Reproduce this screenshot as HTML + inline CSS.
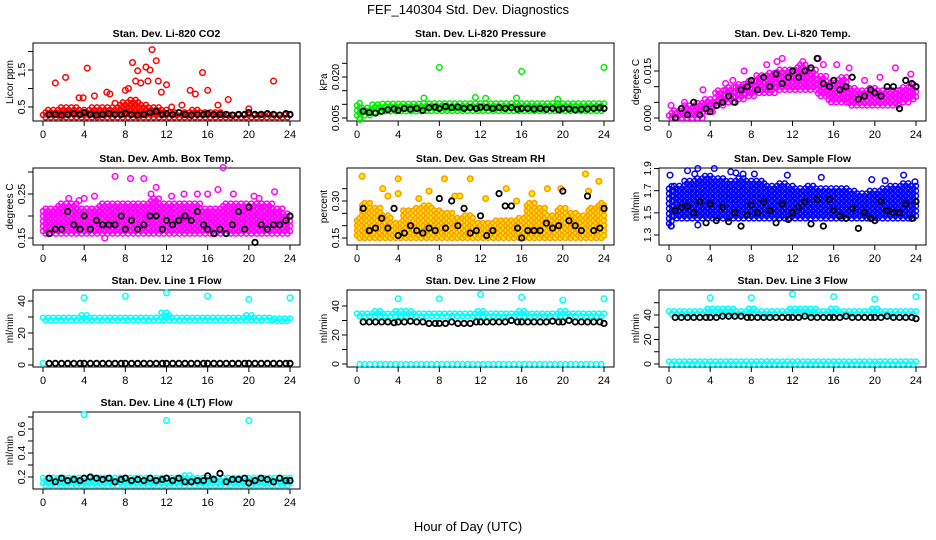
<!DOCTYPE html>
<html><head><meta charset="utf-8"><style>
html,body{margin:0;padding:0;background:#fff;}
svg{display:block;font-family:"Liberation Sans",sans-serif;}
</style></head><body>
<svg id="chart" width="936" height="540" viewBox="0 0 936 540">
<text x="468" y="14" text-anchor="middle" font-size="13">FEF_140304  Std. Dev. Diagnostics</text>
<text x="468" y="531" text-anchor="middle" font-size="13">Hour of Day (UTC)</text>
</svg>
<script>
// shared hour arrays
const bandHours = [0,1,2,3,4,5,6,7,8,9,10,11,12,13,14,15,16,17,18,19,20,21,22,23,24];
const blackHours = [0.6,1.2,1.8,2.4,3.0,3.6,4.0,4.6,5.2,5.8,6.4,7.0,7.6,8.0,8.6,9.2,9.8,10.4,11.0,11.6,12.0,12.6,13.2,13.8,14.4,15.0,15.6,16.0,16.6,17.2,17.8,18.4,19.0,19.6,20.0,20.6,21.2,21.8,22.4,23.0,23.6,24.0];
const xTicks = [0,4,8,12,16,20,24];

// P1 CO2
const co2Lo = [0.22,0.22,0.22,0.22,0.22,0.22,0.22,0.22,0.22,0.22,0.22,0.22,0.22,0.22,0.22,0.22,0.22,0.22,0.22,0.22,0.22,0.22,0.22,0.22,0.22];
const co2Hi = [0.4,0.45,0.5,0.5,0.45,0.5,0.5,0.55,0.65,0.7,0.6,0.5,0.42,0.4,0.4,0.45,0.4,0.36,0.35,0.35,0.35,0.35,0.35,0.35,0.35];
const co2OutX = [1.2,2.2,3.5,3.9,4.3,5,6.2,6.5,7,8,8.3,8.7,9,9.2,9.5,10,10.4,10.2,10.6,11,11.2,11.5,12,12.5,13.5,14.3,14.8,15.5,16,17,18,20,22.4];
const co2OutY = [1.15,1.3,0.75,0.75,1.55,0.8,0.9,0.85,0.6,0.95,1.0,1.7,1.2,1.48,1.15,1.58,1.5,1.2,2.05,1.75,1.2,0.9,1.1,0.5,0.55,0.95,0.85,1.43,0.95,0.55,0.7,0.45,1.2];
const co2Blk = [0.3,0.3,0.28,0.3,0.32,0.3,0.35,0.3,0.28,0.3,0.32,0.3,0.3,0.33,0.3,0.28,0.3,0.35,0.38,0.3,0.32,0.3,0.35,0.3,0.28,0.3,0.3,0.32,0.3,0.3,0.3,0.28,0.3,0.3,0.35,0.3,0.3,0.32,0.3,0.28,0.32,0.3];
// P2 Pressure
const presLo = [0.005,0.006,0.0072,0.0075,0.0075,0.0075,0.0075,0.0076,0.0076,0.0076,0.0076,0.0076,0.0076,0.0076,0.0076,0.0076,0.0076,0.0076,0.0076,0.0076,0.0076,0.0076,0.0076,0.0076,0.0076];
const presHi = [0.0105,0.0095,0.0102,0.0105,0.0108,0.0108,0.0108,0.011,0.011,0.011,0.011,0.011,0.011,0.011,0.011,0.011,0.011,0.011,0.011,0.011,0.011,0.011,0.0108,0.0108,0.0108];
const presOutX = [8,16,24,6.5,11.5,12.5,15.5,19.5,0.3];
const presOutY = [0.0235,0.022,0.0235,0.0123,0.0125,0.0122,0.0123,0.0118,0.0045];
const presBlk = [0.0075,0.007,0.0068,0.0075,0.008,0.0083,0.0078,0.0085,0.0082,0.0085,0.0078,0.0088,0.009,0.0085,0.0092,0.0088,0.009,0.0085,0.0088,0.0085,0.009,0.0088,0.0085,0.0088,0.0085,0.0088,0.0082,0.0085,0.0085,0.0083,0.0085,0.0082,0.0085,0.008,0.0085,0.0083,0.008,0.0082,0.0083,0.0085,0.0087,0.0085];
// P3 Li-820 Temp
const tempLo = [0,0,0,0,0.002,0.004,0.005,0.006,0.007,0.008,0.008,0.009,0.009,0.009,0.009,0.007,0.005,0.005,0.004,0.004,0.004,0.004,0.004,0.005,0.006];
const tempHi = [0.002,0.003,0.004,0.005,0.006,0.009,0.01,0.011,0.012,0.014,0.015,0.016,0.016,0.017,0.016,0.014,0.012,0.013,0.01,0.009,0.01,0.009,0.009,0.01,0.011];
const tempOutX = [0.2,1.5,3.3,5.5,6.2,7.3,9.5,10.5,11,13,14.5,15,16.3,17.5,19,20.5,22,23.5];
const tempOutY = [0.004,0.005,0.009,0.011,0.012,0.015,0.017,0.018,0.019,0.018,0.019,0.017,0.017,0.016,0.012,0.013,0.016,0.014];
const tempBlk = [0,0.003,0.001,0.005,0.001,0.003,0.002,0.004,0.005,0.007,0.005,0.009,0.01,0.012,0.009,0.013,0.01,0.014,0.011,0.013,0.015,0.013,0.015,0.016,0.019,0.011,0.01,0.012,0.009,0.01,0.013,0.006,0.007,0.009,0.008,0.007,0.01,0.01,0.003,0.012,0.011,0.01];
// P4 Amb box temp
const ambLo = [0.16,0.16,0.16,0.16,0.16,0.16,0.16,0.16,0.16,0.16,0.16,0.16,0.16,0.16,0.16,0.16,0.16,0.16,0.16,0.16,0.16,0.16,0.16,0.16,0.16];
const ambHi = [0.22,0.22,0.23,0.23,0.22,0.22,0.23,0.23,0.23,0.23,0.23,0.24,0.23,0.23,0.23,0.23,0.22,0.22,0.23,0.23,0.23,0.23,0.23,0.22,0.21];
const ambOutX = [7,8.5,9.8,11,5,4,15,17,17.5,22.5,6,12.5,10.5,18.5,20.5,3.5,16,2.5,21,13.7];
const ambOutY = [0.29,0.285,0.285,0.265,0.245,0.24,0.25,0.26,0.31,0.255,0.15,0.245,0.25,0.25,0.245,0.235,0.25,0.24,0.24,0.25];
const ambBlk = [0.16,0.17,0.17,0.21,0.18,0.17,0.2,0.17,0.19,0.18,0.18,0.18,0.2,0.17,0.19,0.17,0.18,0.2,0.2,0.17,0.19,0.18,0.19,0.2,0.19,0.21,0.18,0.17,0.16,0.17,0.16,0.18,0.21,0.17,0.22,0.14,0.18,0.17,0.18,0.18,0.19,0.2];
// P5 RH
const rhLo = [0.15,0.15,0.15,0.15,0.15,0.15,0.15,0.15,0.15,0.15,0.15,0.15,0.15,0.15,0.15,0.15,0.15,0.15,0.15,0.15,0.15,0.15,0.15,0.15,0.15];
const rhHi = [0.24,0.3,0.28,0.25,0.22,0.27,0.28,0.29,0.27,0.26,0.24,0.25,0.22,0.22,0.23,0.23,0.24,0.3,0.28,0.25,0.28,0.26,0.25,0.28,0.3];
const rhOutX = [0.5,2.5,4,4,6,7,8.5,9.5,11,12.5,14.5,17,18.5,19.8,22.2,22.5,23.5,3,10,15.5];
const rhOutY = [0.4,0.35,0.39,0.33,0.31,0.34,0.39,0.32,0.39,0.31,0.35,0.33,0.35,0.35,0.41,0.34,0.38,0.32,0.32,0.3];
const rhBlk = [0.27,0.18,0.19,0.23,0.19,0.27,0.16,0.17,0.2,0.18,0.17,0.19,0.18,0.31,0.19,0.3,0.2,0.27,0.17,0.18,0.24,0.16,0.18,0.33,0.28,0.28,0.19,0.15,0.18,0.18,0.18,0.21,0.19,0.2,0.34,0.22,0.2,0.18,0.32,0.18,0.19,0.27];
// P6 Sample flow
const sfLo = [1.38,1.45,1.45,1.45,1.45,1.45,1.45,1.45,1.45,1.45,1.45,1.45,1.45,1.45,1.45,1.45,1.45,1.45,1.45,1.45,1.45,1.45,1.45,1.45,1.45];
const sfHi = [1.75,1.75,1.8,1.82,1.85,1.82,1.8,1.82,1.8,1.8,1.75,1.78,1.75,1.72,1.75,1.72,1.72,1.72,1.7,1.68,1.7,1.72,1.75,1.78,1.76];
const sfOutX = [0.1,1.8,2.5,2.8,4.4,6,6.5,7.2,8.3,11.5,14.8,19.7,21,22.8,23.9,2.8,0.2];
const sfOutY = [1.84,1.88,1.85,1.9,1.9,1.87,1.86,1.85,1.85,1.84,1.82,1.8,1.79,1.84,1.78,1.39,1.38];
const sfBlk = [1.52,1.55,1.56,1.5,1.6,1.41,1.58,1.43,1.55,1.42,1.5,1.38,1.48,1.57,1.5,1.6,1.52,1.41,1.58,1.44,1.5,1.55,1.6,1.4,1.62,1.38,1.62,1.52,1.47,1.45,1.54,1.36,1.5,1.45,1.43,1.6,1.52,1.5,1.5,1.58,1.45,1.6];
// P7 Line 1
const l1Lo = [28,28,28,28,28,28,28,28,28,28,28,28,28,28,28,28,28,28,28,28,28,28,28,27.5,27.5];
const l1Hi = [31,31,31,31,32,31,31,31,31,31,31,31,33,31,31,31,31,31,31,31,32,31,30,30,30];
const l1OutX = [4,8,12,16,20,24,0];
const l1OutY = [42,43,45,43,41,42,1];
const l1Blk = [1,1,1,1,1,1,1,1,1,1,1,1,1,1,1,1,1,1,1,1,1,1,1,1,1,1,1,1,1,1,1,1,1,1,1,1,1,1,1,1,1,1];
// P8 Line 2
const l2Lo = [33,33,33,33,33,33,33,33,33,33,33,33,33,33,33,33,33,33,33,33,33,33,33,33,33];
const l2Hi = [36,36,37,36,37,37,36,36,36,36,36,36,38,36,36,36,37,36,36,36,37,36,36,36,36];
const l2Lo2 = [0,0,0,0,0,0,0,0,0,0,0,0,0,0,0,0,0,0,0,0,0,0,0,0,0];
const l2Hi2 = [1.5,1.5,1.5,1.5,1.5,1.5,1.5,1.5,1.5,1.5,1.5,1.5,1.5,1.5,1.5,1.5,1.5,1.5,1.5,1.5,1.5,1.5,1.5,1.5,1.5];
const l2OutX = [4,8,12,16,20,24];
const l2OutY = [45,45,48,46,44,45];
const l2Blk = [29,29,29,29,29,28.5,29,29,29.5,29,29,28,28,28,28,29,28,28,28,29,29,29,29,29,29,30,29,29,29,29,29,29,29.5,29,29,30,29,29,29,29,29,28];
// P9 Line 3
const l3Lo = [41,41,41,41,41,41,41,41,41,41,41,41,41,41,41,41,41,41,41,41,41,41,41,41,41];
const l3Hi = [44,44,44,44,45,45,45,44,45,44,44,44,46,45,45,44,45,44,44,44,45,44,44,43,43];
const l3Lo2 = [0,0,0,0,0,0,0,0,0,0,0,0,0,0,0,0,0,0,0,0,0,0,0,0,0];
const l3Hi2 = [2,2,2,2,2,2,2,2,2,2,2,2,2,2,2,2,2,2,2,2,2,2,2,2,2];
const l3OutX = [4,8,12,16,20,24];
const l3OutY = [54,54,57,55,53,55];
const l3Blk = [38,38,38,38,38,38,38,38,39,39,39,39,38,38,38,38,38,38,38,38,38,38,39,38,38,38,38,38,38,39,38,38,38,38,38,38,39,38,38,38,38,37];
// P10 Line 4
const l4Lo = [0.13,0.13,0.13,0.13,0.13,0.13,0.13,0.13,0.13,0.13,0.13,0.13,0.13,0.13,0.13,0.13,0.13,0.13,0.13,0.13,0.13,0.13,0.13,0.13,0.13];
const l4Hi = [0.2,0.2,0.21,0.21,0.21,0.2,0.2,0.2,0.2,0.2,0.21,0.2,0.2,0.2,0.22,0.2,0.2,0.2,0.2,0.2,0.2,0.2,0.2,0.2,0.2];
const l4OutX = [4,12,20];
const l4OutY = [0.72,0.67,0.67];
const l4Blk = [0.19,0.16,0.19,0.17,0.18,0.17,0.19,0.2,0.19,0.18,0.19,0.16,0.18,0.19,0.17,0.18,0.17,0.19,0.17,0.18,0.19,0.17,0.19,0.16,0.16,0.17,0.17,0.21,0.18,0.23,0.16,0.18,0.18,0.19,0.15,0.17,0.19,0.18,0.16,0.19,0.17,0.17];

const svg = document.getElementById('chart');
const NS = 'http://www.w3.org/2000/svg';

const panels = [
 {id:'co2', title:'Stan. Dev. Li-820 CO2', yt:'Licor ppm', l:33,r:300,t:43,b:121, va:0.5,ya:107,vb:1.5,yb:70, ticks:[0.5,1,1.5,2], labels:['0.5','','1.5',''], col:'#ff0000', lo:co2Lo, hi:co2Hi, ox:co2OutX, oy:co2OutY, blk:co2Blk},
 {id:'pressure', title:'Stan. Dev. Li-820 Pressure', yt:'kPa', l:347,r:614,t:43,b:121, va:0.005,ya:118,vb:0.020,yb:77, ticks:[0.005,0.01,0.015,0.02,0.025], labels:['0.005','','','0.020',''], col:'#00ee00', lo:presLo, hi:presHi, ox:presOutX, oy:presOutY, blk:presBlk},
 {id:'li820-temp', title:'Stan. Dev. Li-820 Temp.', yt:'degrees C', l:659,r:926,t:43,b:121, va:0,ya:118,vb:0.015,yb:71, ticks:[0,0.005,0.01,0.015], labels:['0.000','','','0.015'], col:'#ff00ff', lo:tempLo, hi:tempHi, ox:tempOutX, oy:tempOutY, blk:tempBlk},
 {id:'amb-box-temp', title:'Stan. Dev. Amb. Box Temp.', yt:'degrees C', l:33,r:300,t:168,b:245, va:0.15,ya:238,vb:0.25,yb:194, ticks:[0.15,0.2,0.25,0.3], labels:['0.15','','0.25',''], col:'#ff00ff', lo:ambLo, hi:ambHi, ox:ambOutX, oy:ambOutY, blk:ambBlk},
 {id:'gas-rh', title:'Stan. Dev. Gas Stream RH', yt:'percent', l:347,r:614,t:168,b:245, va:0.15,ya:238,vb:0.30,yb:201, ticks:[0.15,0.2,0.25,0.3,0.35], labels:['0.15','','','0.30',''], col:'#ff9900', fill:'#ffee00', lo:rhLo, hi:rhHi, ox:rhOutX, oy:rhOutY, blk:rhBlk},
 {id:'sample-flow', title:'Stan. Dev. Sample Flow', yt:'ml/min', l:659,r:926,t:168,b:245, va:1.3,ya:235,vb:1.9,yb:168.5, ticks:[1.3,1.5,1.7,1.9], labels:['1.3','1.5','1.7','1.9'], col:'#0000ff', lo:sfLo, hi:sfHi, ox:sfOutX, oy:sfOutY, blk:sfBlk},
 {id:'line1-flow', title:'Stan. Dev. Line 1 Flow', yt:'ml/min', l:33,r:300,t:290,b:367, va:0,ya:365,vb:40,yb:301, ticks:[0,10,20,30,40], labels:['0','','20','','40'], col:'#00ffff', lo:l1Lo, hi:l1Hi, ox:l1OutX, oy:l1OutY, blk:l1Blk},
 {id:'line2-flow', title:'Stan. Dev. Line 2 Flow', yt:'ml/min', l:347,r:614,t:290,b:367, va:0,ya:364,vb:40,yb:306, ticks:[0,10,20,30,40], labels:['0','','20','','40'], col:'#00ffff', lo:l2Lo, hi:l2Hi, lo2:l2Lo2, hi2:l2Hi2, ox:l2OutX, oy:l2OutY, blk:l2Blk},
 {id:'line3-flow', title:'Stan. Dev. Line 3 Flow', yt:'ml/min', l:659,r:926,t:290,b:367, va:0,ya:364,vb:40,yb:315, ticks:[0,10,20,30,40,50], labels:['0','','20','','40',''], col:'#00ffff', lo:l3Lo, hi:l3Hi, lo2:l3Lo2, hi2:l3Hi2, ox:l3OutX, oy:l3OutY, blk:l3Blk},
 {id:'line4-flow', title:'Stan. Dev. Line 4 (LT) Flow', yt:'ml/min', l:33,r:300,t:412,b:489, va:0.2,ya:477,vb:0.6,yb:429, ticks:[0.2,0.3,0.4,0.5,0.6,0.7], labels:['0.2','','0.4','','0.6',''], col:'#00ffff', lo:l4Lo, hi:l4Hi, ox:l4OutX, oy:l4OutY, blk:l4Blk}
];

function E(tag, attrs, parent){
  const e = document.createElementNS(NS, tag);
  for (const k in attrs) e.setAttribute(k, attrs[k]);
  parent.appendChild(e);
  return e;
}

function drawPanel(p){
  const g = E('g', {}, svg);
  
  
  const xs = h => (p.l + 10) + (p.r - p.l - 20) * h / 24;
  const ys = v => p.ya + (v - p.va) * (p.yb - p.ya) / (p.vb - p.va);
  const box = E('rect', {x:p.l, y:p.t, width:p.r-p.l, height:p.b-p.t, fill:'none', stroke:'#000', 'stroke-width':1}, g);
  
  
  const tt = E('text', {x:(p.l+p.r)/2, y:p.t-6, 'text-anchor':'middle', 'font-size':10.5, 'font-weight':'bold'}, g);
  tt.textContent = p.title;
  
  
  const xa = E('g', {}, g);
  
  
  xTicks.forEach(h => {
    E('line', {x1:xs(h), x2:xs(h), y1:p.b, y2:p.b+5, stroke:'#000'}, xa);
    const t = E('text', {x:xs(h), y:p.b+17, 'text-anchor':'middle', 'font-size':11}, xa);
    t.textContent = String(h);
  });
  const ya = E('g', {}, g);
  
  
  p.ticks.forEach((v, i) => {
    const y = ys(v);
    if (y < p.t - 1 || y > p.b + 1) return;
    E('line', {x1:p.l-5, x2:p.l, y1:y, y2:y, stroke:'#000'}, ya);
    if (p.labels[i]) {
      const t = E('text', {x:0, y:0, 'text-anchor':'middle', 'font-size':10.5, transform:'translate(' + (p.l-8) + ',' + y + ') rotate(-90)'}, ya);
      t.textContent = p.labels[i];
    }
  });
  const yt = E('text', {x:0, y:0, 'text-anchor':'middle', 'font-size':10, transform:'translate(' + (p.l-20) + ',' + ((p.t+p.b)/2) + ') rotate(-90)'}, g);
  yt.textContent = p.yt;
  
  
  const cs = E('g', {fill: p.fill || 'none', stroke:p.col, 'stroke-width':1.5}, g);
  
  
  const band = (lo, hi) => {
    let col = 0;
    bandHours.forEach((h, i) => {
      for (let dx = -0.5; dx < 0.5; dx += 0.25) {
        const hx = h + dx;
        col++;
        if (hx < 0 || hx > 24) continue;
        const y0 = ys(lo[i]) - (col % 2) * 2.5, y1 = ys(hi[i]);
        for (let y = y0; y >= y1 - 0.1; y -= 5) {
          E('circle', {cx:xs(hx).toFixed(1), cy:y.toFixed(1), r:2.5}, cs);
        }
      }
    });
  };
  band(p.lo, p.hi);
  if (p.lo2) band(p.lo2, p.hi2);
  p.ox.forEach((h, i) => {
    const c = E('circle', {cx:xs(h), cy:ys(p.oy[i]), r:2.8}, cs);
    
    
  });
  const bs = E('g', {fill:'none', stroke:'#000', 'stroke-width':1.8}, g);
  
  
  blackHours.forEach((h, i) => {
    const c = E('circle', {cx:xs(h), cy:ys(p.blk[i]), r:2.7}, bs);
    
    
  });
}
panels.forEach(drawPanel);
</script>
</body></html>
